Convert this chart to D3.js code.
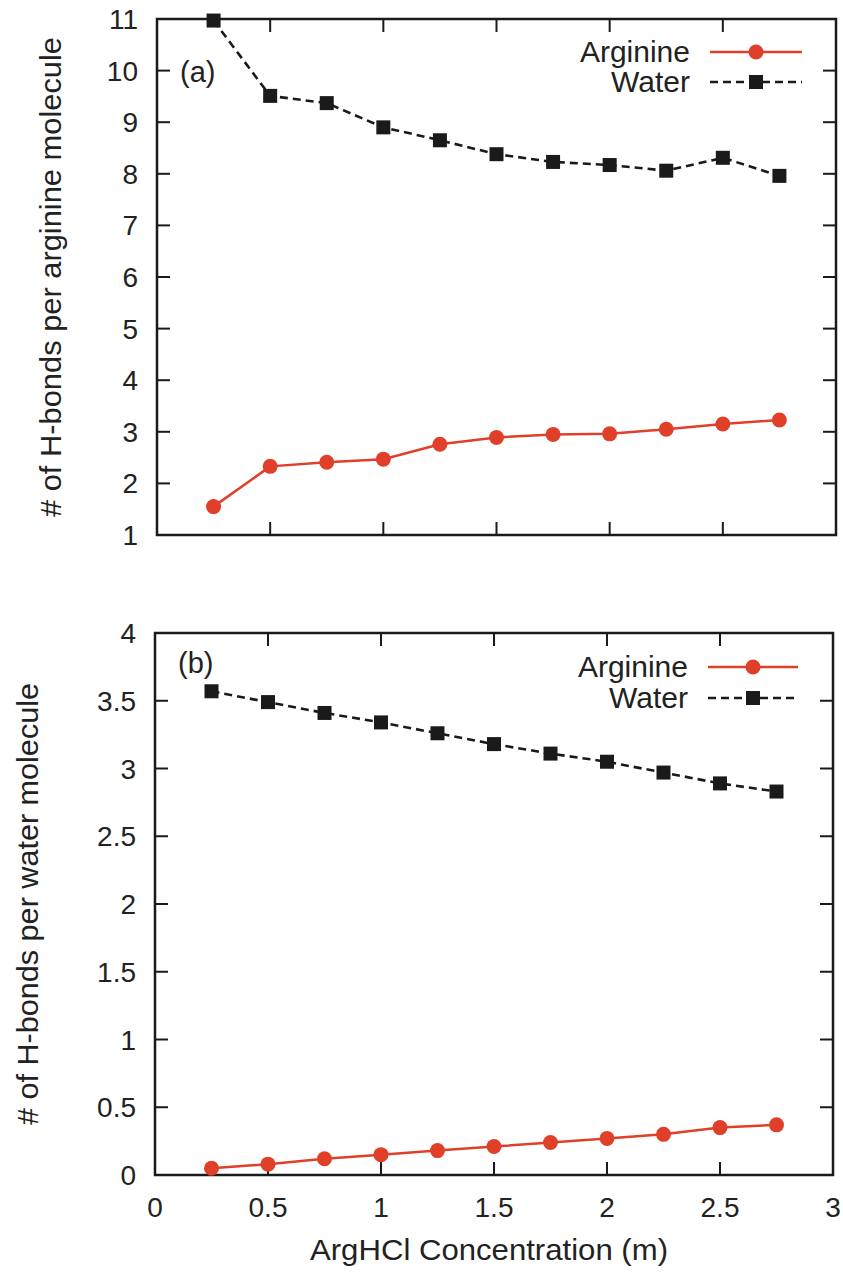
<!DOCTYPE html>
<html><head><meta charset="utf-8">
<script src="https://cdn.jsdelivr.net/npm/d3@7"></script>
<style>body{margin:0;background:#fff}svg text{font-family:"Liberation Sans",Arial,sans-serif;fill:#222}</style>
</head><body>
<svg id="c" width="843" height="1272"></svg>
<script>
const conc = [0.25,0.5,0.75,1.0,1.25,1.5,1.75,2.0,2.25,2.5,2.75];
const argA = [1.55,2.33,2.41,2.47,2.76,2.89,2.95,2.96,3.05,3.15,3.23];
const watA = [10.97,9.51,9.37,8.9,8.65,8.38,8.23,8.17,8.06,8.31,7.96];
const argB = [0.05,0.08,0.12,0.15,0.18,0.21,0.24,0.27,0.30,0.35,0.37];
const watB = [3.57,3.49,3.41,3.34,3.26,3.18,3.11,3.05,2.97,2.89,2.83];
const xTicks = [0,0.5,1,1.5,2,2.5,3];
const xTickLabels = ["0","0.5","1","1.5","2","2.5","3"];
const yTicksA = [1,2,3,4,5,6,7,8,9,10,11];
const yTicksB = [0,0.5,1,1.5,2,2.5,3,3.5,4];
const yTickLabelsB = ["0","0.5","1","1.5","2","2.5","3","3.5","4"];
const seriesNames = ["Arginine","Water"];
const xTitle = "ArgHCl Concentration (m)";
const yTitleA = "# of H-bonds per arginine molecule";
const yTitleB = "# of H-bonds per water molecule";

const svg = d3.select("#c");
const RED = "#e0402a", BLK = "#1a1a1a";

function panel(o){
  const x = d3.scaleLinear().domain([0,3]).range([o.l,o.r]);
  const y = d3.scaleLinear().domain(o.ydom).range([o.b,o.t]);
  const g = svg.append("g");
  const tl = 13;
  xTicks.forEach((v,i)=>{
    if(v>0 && v<3){
      g.append("line").attr("x1",x(v)).attr("x2",x(v)).attr("y1",o.b).attr("y2",o.b-tl).attr("stroke",BLK).attr("stroke-width",2);
      g.append("line").attr("x1",x(v)).attr("x2",x(v)).attr("y1",o.t).attr("y2",o.t+tl).attr("stroke",BLK).attr("stroke-width",2);
    }
    if(o.xlabels){
      g.append("text").attr("x",x(v)).attr("y",o.b+42).attr("text-anchor","middle").attr("font-size",28).text(xTickLabels[i]);
    }
  });
  o.yt.forEach((v,i)=>{
    if(v>o.ydom[0] && v<o.ydom[1]){
      g.append("line").attr("x1",o.l).attr("x2",o.l+tl).attr("y1",y(v)).attr("y2",y(v)).attr("stroke",BLK).attr("stroke-width",2);
      g.append("line").attr("x1",o.r).attr("x2",o.r-tl).attr("y1",y(v)).attr("y2",y(v)).attr("stroke",BLK).attr("stroke-width",2);
    }
    g.append("text").attr("x",o.l-19).attr("y",y(v)+10).attr("text-anchor","end").attr("font-size",28).text(o.ytl[i]);
  });
  g.append("rect").attr("x",o.l).attr("y",o.t).attr("width",o.r-o.l).attr("height",o.b-o.t).attr("fill","none").attr("stroke",BLK).attr("stroke-width",2.5);
  g.append("text").attr("transform",`translate(${o.ytx},${(o.t+o.b)/2}) rotate(-90)`).attr("text-anchor","middle")
    .attr("font-size",30).attr("textLength",o.ytl_len).attr("lengthAdjust","spacingAndGlyphs").text(o.ytitle);
  g.append("text").attr("x",o.l+23).attr("y",o.labY).attr("font-size",29).text(o.label);
  const line = d3.line().x((d,i)=>x(conc[i])).y(d=>y(d));
  g.append("path").datum(o.wat).attr("d",line).attr("fill","none").attr("stroke",BLK).attr("stroke-width",2.6).attr("stroke-dasharray","8,5");
  g.append("path").datum(o.arg).attr("d",line).attr("fill","none").attr("stroke",RED).attr("stroke-width",2.5);
  g.selectAll(".sq").data(o.wat).enter().append("rect").attr("x",(d,i)=>x(conc[i])-7).attr("y",d=>y(d)-7).attr("width",14).attr("height",14).attr("fill",BLK);
  g.selectAll(".ci").data(o.arg).enter().append("circle").attr("cx",(d,i)=>x(conc[i])).attr("cy",d=>y(d)).attr("r",7.5).attr("fill",RED);
  const lx1 = o.legX, lx2 = o.legX+o.legW, lm=(lx1+lx2)/2;
  g.append("text").attr("x",lx1-20).attr("y",o.legY+10).attr("text-anchor","end").attr("font-size",30).text(seriesNames[0]);
  g.append("line").attr("x1",lx1).attr("x2",lx2).attr("y1",o.legY).attr("y2",o.legY).attr("stroke",RED).attr("stroke-width",2.5);
  g.append("circle").attr("cx",lm).attr("cy",o.legY).attr("r",7.5).attr("fill",RED);
  g.append("text").attr("x",lx1-20).attr("y",o.legY+o.legDy+10).attr("text-anchor","end").attr("font-size",30).text(seriesNames[1]);
  g.append("line").attr("x1",lx1).attr("x2",lx2).attr("y1",o.legY+o.legDy).attr("y2",o.legY+o.legDy).attr("stroke",BLK).attr("stroke-width",2.6).attr("stroke-dasharray","8,5");
  g.append("rect").attr("x",lm-7).attr("y",o.legY+o.legDy-7).attr("width",14).attr("height",14).attr("fill",BLK);
}

panel({l:157,r:836,t:19,b:535,ydom:[1,11],yt:yTicksA,ytl:yTicksA.map(String),xlabels:false,
  ytitle:yTitleA,ytx:61,ytl_len:480,label:"(a)",labY:82,arg:argA,wat:watA,legX:710,legW:92,legY:52,legDy:30});
panel({l:155,r:833,t:633,b:1175,ydom:[0,4],yt:yTicksB,ytl:yTickLabelsB,xlabels:true,
  ytitle:yTitleB,ytx:38,ytl_len:442,label:"(b)",labY:673,arg:argB,wat:watB,legX:708,legW:90,legY:667,legDy:31});
svg.append("text").attr("x",489).attr("y",1260).attr("text-anchor","middle").attr("font-size",30)
  .attr("textLength",358).attr("lengthAdjust","spacingAndGlyphs").text(xTitle);
</script>
</body></html>
